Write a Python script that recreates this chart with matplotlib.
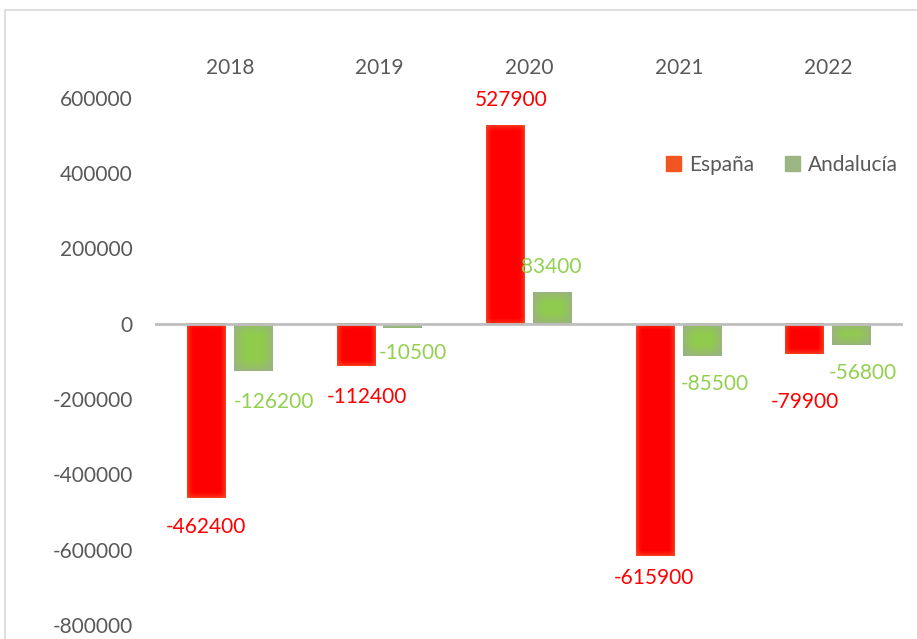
"""
España vs Andalucía, diferencias anuales 2018-2022
"""
import numpy as np
import matplotlib
matplotlib.use('Agg')
import matplotlib.pyplot as plt
from matplotlib.patches import Rectangle
from matplotlib.colors import to_rgb

### data
years = ['2018', '2019', '2020', '2021', '2022']
espana = [-462400, -112400, 527900, -615900, -79900]
andalucia = [-126200, -10500, 83400, -85500, -56800]
yticks = [-800000, -600000, -400000, -200000, 0, 200000, 400000, 600000]

# label offsets in points (dx, dy), Excel placed them by hand
off_esp = [(0, -21), (8, -22), (4, 18), (-1, -16), (0, -35)]
off_and = [(15, -22), (7, -18), (-1, 18), (9, -20), (8, -20)]

plt.rcParams['font.family'] = ['Lato', 'DejaVu Sans']
gray = '#595959'

fig = plt.figure(figsize=(9.17, 6.39), dpi=100)
ax = fig.add_axes([0.169, 0.022, 0.816, 0.825])
ax.set_xlim(-0.5, 4.5)
ax.set_ylim(-800000, 600000)

x = np.arange(len(years))
w = 0.26
b1 = ax.bar(x - 0.157, espana, w, color='none', zorder=2)
b2 = ax.bar(x + 0.157, andalucia, w, color='none', zorder=2)


def shade(bars, edge, center, reach):
    # soft edge glow like the excel fill
    e, c = np.array(to_rgb(edge)), np.array(to_rgb(center))
    for r in bars:
        x0, y0 = r.get_x(), r.get_y()
        x1, y1 = x0 + r.get_width(), y0 + r.get_height()
        p0 = ax.transData.transform((x0, min(y0, y1)))
        p1 = ax.transData.transform((x1, max(y0, y1)))
        wpx, hpx = abs(p1[0] - p0[0]), abs(p1[1] - p0[1])
        nx, ny = max(int(wpx), 2), max(int(hpx), 2)
        u = (np.arange(nx) + 0.5) / nx * wpx
        v = (np.arange(ny) + 0.5) / ny * hpx
        fu = np.clip(np.minimum(u, wpx - u) / reach, 0, 1)[None, :]
        fv = np.clip(np.minimum(v, hpx - v) / reach, 0, 1)[:, None]
        f = (np.sqrt(fu * fv))[..., None]
        img = e * (1 - f) + c * f
        ax.imshow(img, extent=(x0, x1, min(y0, y1), max(y0, y1)), aspect='auto',
                  zorder=2, interpolation='bilinear')


shade(b1, '#F4502A', '#FF0000', 6.0)
shade(b2, '#9CAE88', '#8FCC4C', 12.0)
ax.set_xlim(-0.5, 4.5)
ax.set_ylim(-800000, 600000)

for bars, vals, offs, col in [(b1, espana, off_esp, '#FF0000'), (b2, andalucia, off_and, '#92D050')]:
    for r, v, (dx, dy) in zip(bars, vals, offs):
        ax.annotate(str(v), (r.get_x() + r.get_width() / 2, v), xytext=(dx, dy),
                    textcoords='offset points', ha='center', va='center',
                    color=col, fontsize=15)

ax.axhline(0, color='#BFBFBF', lw=2, zorder=3)

ax.set_yticks(yticks)
ax.set_yticklabels([str(t) for t in yticks])
ax.set_xticks(x)
ax.set_xticklabels(years)
ax.xaxis.tick_top()
ax.tick_params(axis='x', length=0, pad=14, labelsize=15, labelcolor=gray)
ax.tick_params(axis='y', length=0, pad=16, labelsize=15, labelcolor=gray)
for s in ax.spines.values():
    s.set_visible(False)

h1 = Rectangle((0, 0), 1, 1, color='#F05522')
h2 = Rectangle((0, 0), 1, 1, color='#9CB585')
ax.legend([h1, h2], ['España', 'Andalucía'], ncol=2, frameon=False,
          loc='center', bbox_to_anchor=(0.853, 0.742), bbox_transform=fig.transFigure,
          handlelength=0.7, handleheight=0.7, handletextpad=0.4, columnspacing=1.5,
          fontsize=15, labelcolor=gray)

# outer chart border
fig.patches.append(Rectangle((5 / 917, -0.1), 1.2, 1 - 10 / 639 + 0.1, transform=fig.transFigure,
                             fill=False, edgecolor='#D9D9D9', lw=1.2))

fig.savefig('out.png', dpi=100)
